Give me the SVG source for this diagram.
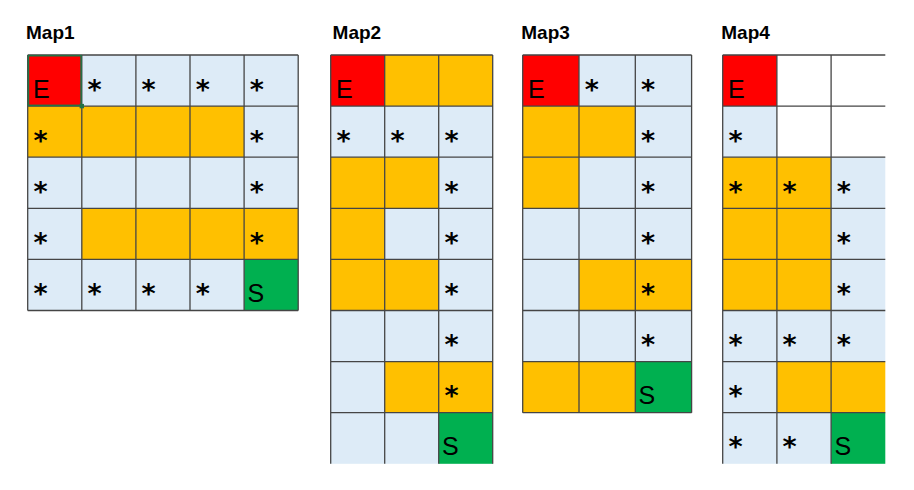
<svg xmlns="http://www.w3.org/2000/svg" width="914" height="490" viewBox="0 0 914 490">
<style>
.t{font-family:"Liberation Sans",Arial,sans-serif;font-weight:bold;font-size:19px;fill:#000}
.b{fill:#DDEBF7}.o{fill:#FFC000}.r{fill:#FF0000}.g{fill:#00B050}.w{fill:#FFFFFF}
.a{font-family:"DejaVu Sans",sans-serif;font-size:27px;font-weight:bold;fill:#000}
.L{font-family:"Liberation Sans",Arial,sans-serif;font-size:25px;fill:#000}
.gl{stroke:#454545;stroke-width:1.3;fill:none}
</style>
<rect width="914" height="490" fill="#fff"/>

<g id="map1">
<text class="t" x="26" y="39">Map1</text>
<rect class="r" x="27.7" y="55" width="54.1" height="51.1"/>
<rect class="b" x="81.8" y="55" width="216.4" height="51.1"/>
<rect class="o" x="27.7" y="106.1" width="216.4" height="51.1"/>
<rect class="b" x="244.1" y="106.1" width="54.1" height="51.1"/>
<rect class="b" x="27.7" y="157.2" width="270.5" height="51.1"/>
<rect class="b" x="27.7" y="208.3" width="54.1" height="51.1"/>
<rect class="o" x="81.8" y="208.3" width="216.4" height="51.1"/>
<rect class="b" x="27.7" y="259.4" width="216.4" height="51.1"/>
<rect class="g" x="244.1" y="259.4" width="54.1" height="51.1"/>
<path class="gl" d="M27.7 55V310.5M81.8 55V310.5M135.9 55V310.5M190 55V310.5M244.1 55V310.5M298.2 55V310.5M27.7 55H298.2M27.7 106.1H298.2M27.7 157.2H298.2M27.7 208.3H298.2M27.7 259.4H298.2M27.7 310.5H298.2"/>
<rect x="28.4" y="55.7" width="52.7" height="49.7" fill="none" stroke="#217346" stroke-width="1.6"/>
<rect x="79.6" y="103.9" width="4.4" height="4.4" fill="#217346"/>
<text class="L" x="33" y="98.3">E</text>
<text class="a" x="87.5" y="98.5">*</text><text class="a" x="141.6" y="98.5">*</text><text class="a" x="195.7" y="98.5">*</text><text class="a" x="249.8" y="98.5">*</text>
<text class="a" x="33.4" y="149.6">*</text><text class="a" x="249.8" y="149.6">*</text>
<text class="a" x="33.4" y="200.7">*</text><text class="a" x="249.8" y="200.7">*</text>
<text class="a" x="33.4" y="251.8">*</text><text class="a" x="249.8" y="251.8">*</text>
<text class="a" x="33.4" y="302.9">*</text><text class="a" x="87.5" y="302.9">*</text><text class="a" x="141.6" y="302.9">*</text><text class="a" x="195.7" y="302.9">*</text>
<text class="L" x="247.4" y="301.6">S</text>
</g>

<g id="map2">
<text class="t" x="332.6" y="39">Map2</text>
<rect class="r" x="330.7" y="55" width="54" height="51.1"/>
<rect class="o" x="384.7" y="55" width="108" height="51.1"/>
<rect class="b" x="330.7" y="106.1" width="162" height="51.1"/>
<rect class="o" x="330.7" y="157.2" width="108" height="51.1"/>
<rect class="b" x="438.7" y="157.2" width="54" height="51.1"/>
<rect class="o" x="330.7" y="208.3" width="54" height="51.1"/>
<rect class="b" x="384.7" y="208.3" width="108" height="51.1"/>
<rect class="o" x="330.7" y="259.4" width="108" height="51.1"/>
<rect class="b" x="438.7" y="259.4" width="54" height="51.1"/>
<rect class="b" x="330.7" y="310.5" width="162" height="51.1"/>
<rect class="b" x="330.7" y="361.6" width="54" height="51.1"/>
<rect class="o" x="384.7" y="361.6" width="108" height="51.1"/>
<rect class="b" x="330.7" y="412.7" width="108" height="51.1"/>
<rect class="g" x="438.7" y="412.7" width="54" height="51.1"/>
<path class="gl" d="M330.7 55V463.8M384.7 55V463.8M438.7 55V463.8M492.7 55V463.8M330.7 55H492.7M330.7 106.1H492.7M330.7 157.2H492.7M330.7 208.3H492.7M330.7 259.4H492.7M330.7 310.5H492.7M330.7 361.6H492.7M330.7 412.7H492.7"/>
<text class="L" x="336" y="98.3">E</text>
<text class="a" x="336.4" y="149.6">*</text><text class="a" x="390.4" y="149.6">*</text><text class="a" x="444.4" y="149.6">*</text>
<text class="a" x="444.4" y="200.7">*</text>
<text class="a" x="444.4" y="251.8">*</text>
<text class="a" x="444.4" y="302.9">*</text>
<text class="a" x="444.4" y="354">*</text>
<text class="a" x="444.4" y="405.1">*</text>
<text class="L" x="442" y="454.9">S</text>
</g>

<g id="map3">
<text class="t" x="521.3" y="39">Map3</text>
<rect class="r" x="522.7" y="55" width="56.3" height="51.1"/>
<rect class="b" x="579" y="55" width="112.6" height="51.1"/>
<rect class="o" x="522.7" y="106.1" width="112.6" height="51.1"/>
<rect class="b" x="635.3" y="106.1" width="56.3" height="51.1"/>
<rect class="o" x="522.7" y="157.2" width="56.3" height="51.1"/>
<rect class="b" x="579" y="157.2" width="112.6" height="51.1"/>
<rect class="b" x="522.7" y="208.3" width="168.9" height="51.1"/>
<rect class="b" x="522.7" y="259.4" width="56.3" height="51.1"/>
<rect class="o" x="579" y="259.4" width="112.6" height="51.1"/>
<rect class="b" x="522.7" y="310.5" width="168.9" height="51.1"/>
<rect class="o" x="522.7" y="361.6" width="112.6" height="51.1"/>
<rect class="g" x="635.3" y="361.6" width="56.3" height="51.1"/>
<path class="gl" d="M522.7 55V412.7M579 55V412.7M635.3 55V412.7M691.6 55V412.7M522.7 55H691.6M522.7 106.1H691.6M522.7 157.2H691.6M522.7 208.3H691.6M522.7 259.4H691.6M522.7 310.5H691.6M522.7 361.6H691.6M522.7 412.7H691.6"/>
<text class="L" x="528" y="98.3">E</text>
<text class="a" x="584.7" y="98.5">*</text><text class="a" x="641" y="98.5">*</text>
<text class="a" x="641" y="149.6">*</text>
<text class="a" x="641" y="200.7">*</text>
<text class="a" x="641" y="251.8">*</text>
<text class="a" x="641" y="302.9">*</text>
<text class="a" x="641" y="354">*</text>
<text class="L" x="638.6" y="403.8">S</text>
</g>

<g id="map4">
<text class="t" x="721.3" y="39">Map4</text>
<rect class="r" x="722.7" y="55" width="54.2" height="51.1"/>
<rect class="b" x="722.7" y="106.1" width="54.2" height="51.1"/>
<rect class="o" x="722.7" y="157.2" width="108.4" height="51.1"/>
<rect class="b" x="831.1" y="157.2" width="54.2" height="51.1"/>
<rect class="o" x="722.7" y="208.3" width="108.4" height="102.2"/>
<rect class="b" x="831.1" y="208.3" width="54.2" height="102.2"/>
<rect class="b" x="722.7" y="310.5" width="162.6" height="51.1"/>
<rect class="b" x="722.7" y="361.6" width="54.2" height="51.1"/>
<rect class="o" x="776.9" y="361.6" width="108.4" height="51.1"/>
<rect class="b" x="722.7" y="412.7" width="108.4" height="51.1"/>
<rect class="g" x="831.1" y="412.7" width="54.2" height="51.1"/>
<path class="gl" d="M722.7 55V463.8M776.9 55V463.8M831.1 55V463.8M722.7 55H885.3M722.7 106.1H885.3M722.7 157.2H885.3M722.7 208.3H885.3M722.7 259.4H885.3M722.7 310.5H885.3M722.7 361.6H885.3M722.7 412.7H885.3"/>
<text class="L" x="728" y="98.3">E</text>
<text class="a" x="728.4" y="149.6">*</text>
<text class="a" x="728.4" y="200.7">*</text><text class="a" x="782.6" y="200.7">*</text><text class="a" x="836.8" y="200.7">*</text>
<text class="a" x="836.8" y="251.8">*</text>
<text class="a" x="836.8" y="302.9">*</text>
<text class="a" x="728.4" y="354">*</text><text class="a" x="782.6" y="354">*</text><text class="a" x="836.8" y="354">*</text>
<text class="a" x="728.4" y="405.1">*</text>
<text class="a" x="728.4" y="456.2">*</text><text class="a" x="782.6" y="456.2">*</text>
<text class="L" x="834.4" y="454.9">S</text>
</g>

<g id="connectors"></g>
</svg>
